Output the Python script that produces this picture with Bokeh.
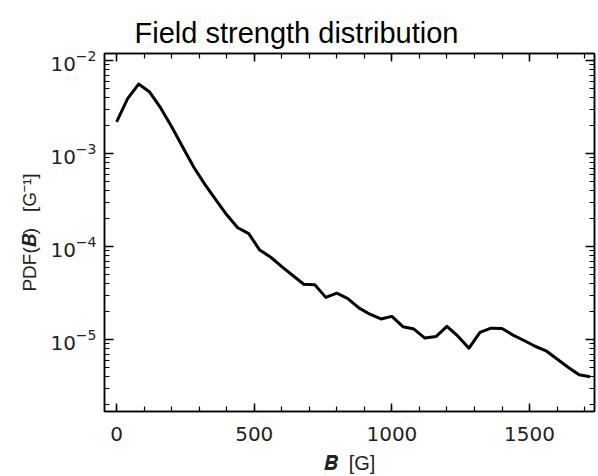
from bokeh.plotting import figure
from bokeh.models import (Range1d, FixedTicker, LinearAxis, LogAxis,
                          LogTickFormatter, CustomJSTickFormatter)
from bokeh.embed import file_html
from bokeh.resources import INLINE

# ---- data ----
b_field = [0, 40, 80, 120, 160, 200, 240, 280, 320, 360, 400, 440, 480, 520,
           560, 600, 640, 680, 720, 760, 800, 840, 880, 920, 960, 1000, 1040,
           1080, 1120, 1160, 1200, 1240, 1280, 1320, 1360, 1400, 1440, 1480,
           1520, 1560, 1600, 1640, 1680, 1720]
pdf = [2.2e-3, 3.9e-3, 5.6e-3, 4.6e-3, 3.1e-3, 1.95e-3, 1.18e-3, 7.2e-4,
       4.7e-4, 3.2e-4, 2.2e-4, 1.6e-4, 1.38e-4, 9.2e-5, 7.7e-5, 6.1e-5,
       4.9e-5, 3.95e-5, 3.9e-5, 2.85e-5, 3.16e-5, 2.77e-5, 2.2e-5, 1.88e-5,
       1.67e-5, 1.78e-5, 1.38e-5, 1.3e-5, 1.04e-5, 1.08e-5, 1.39e-5, 1.09e-5,
       8.1e-6, 1.2e-5, 1.33e-5, 1.32e-5, 1.12e-5, 9.8e-6, 8.5e-6, 7.6e-6,
       6.2e-6, 5.06e-6, 4.19e-6, 4.0e-6]

x_major = [0, 500, 1000, 1500]
x_minor = [0, 100, 200, 300, 400, 500, 600, 700, 800, 900, 1000, 1100, 1200,
           1300, 1400, 1500, 1600, 1700]
y_major = [1e-5, 1e-4, 1e-3, 1e-2]
y_minor = [m * d for d in [1e-6, 1e-5, 1e-4, 1e-3] for m in range(1, 10)] + [1e-2]

title_text = "Field strength distribution"
x_label = "\U0001D469\u00A0\u00A0[G]"
y_label = "PDF(\U0001D469)\u00A0\u00A0\u00A0[G\u207B\u00B9]"

W, H = 598, 476
p = figure(width=W, height=H, y_axis_type="log",
           x_range=Range1d(-44, 1736), y_range=Range1d(1.69e-6, 0.01194),
           output_backend="svg", toolbar_location=None,
           title=title_text,
           min_border_left=104, min_border_right=4, min_border_top=53,
           min_border_bottom=63)
p.background_fill_color = "white"
p.border_fill_color = "white"
p.outline_line_color = "black"
p.outline_line_width = 1.5
p.grid.visible = False

p.title.text_font = "Liberation Sans"
p.title.text_font_size = "29px"
p.title.text_font_style = "normal"
p.title.text_color = "black"
p.title.align = "left"
p.title.offset = 30
p.title.standoff = 10

p.line(b_field, pdf, line_color="black", line_width=3, line_join="round")

tick_font = "DejaVu Sans"
xa = p.xaxis[0]
xa.ticker = FixedTicker(ticks=x_major, minor_ticks=x_minor)
xa.major_tick_in = 8
xa.major_tick_out = 0
xa.minor_tick_in = 5
xa.minor_tick_out = 0
xa.axis_line_width = 1.5
xa.major_tick_line_width = 1.5
xa.minor_tick_line_width = 1.2
xa.major_label_text_font = tick_font
xa.major_label_text_font_size = "20px"
xa.major_label_text_color = "#222222"
xa.major_label_standoff = 15
xa.axis_label = x_label
xa.axis_label_text_font = "Liberation Sans"
xa.axis_label_text_font_size = "20px"
xa.axis_label_text_font_style = "normal"
xa.axis_label_text_color = "#222222"
xa.axis_label_standoff = 8

ya = p.yaxis[0]
ya.ticker = FixedTicker(ticks=y_major, minor_ticks=y_minor)
ya.formatter = LogTickFormatter()
ya.major_tick_in = 9
ya.major_tick_out = 0
ya.minor_tick_in = 5
ya.minor_tick_out = 0
ya.axis_line_width = 1.5
ya.major_tick_line_width = 1.5
ya.minor_tick_line_width = 1.2
ya.major_label_text_font = tick_font
ya.major_label_text_font_size = "20px"
ya.major_label_text_color = "#222222"
ya.major_label_standoff = 8
ya.axis_label = y_label
ya.axis_label_text_font = "Liberation Sans"
ya.axis_label_text_font_size = "19px"
ya.axis_label_text_font_style = "normal"
ya.axis_label_text_color = "#222222"
ya.axis_label_standoff = 7

top = LinearAxis(ticker=FixedTicker(ticks=x_major, minor_ticks=x_minor),
                 formatter=CustomJSTickFormatter(code="return ''"),
                 major_tick_in=8, major_tick_out=0, minor_tick_in=5,
                 minor_tick_out=0, axis_line_width=1.5,
                 major_tick_line_width=1.5, minor_tick_line_width=1.2,
                 major_label_standoff=0)
p.add_layout(top, "above")
right = LogAxis(ticker=FixedTicker(ticks=y_major, minor_ticks=y_minor),
                formatter=CustomJSTickFormatter(code="return ''"),
                major_tick_in=9, major_tick_out=0, minor_tick_in=5,
                minor_tick_out=0, axis_line_width=1.5,
                major_tick_line_width=1.5, minor_tick_line_width=1.2,
                major_label_standoff=0)
p.add_layout(right, "right")

open("out.html", "w").write(file_html(p, INLINE))
